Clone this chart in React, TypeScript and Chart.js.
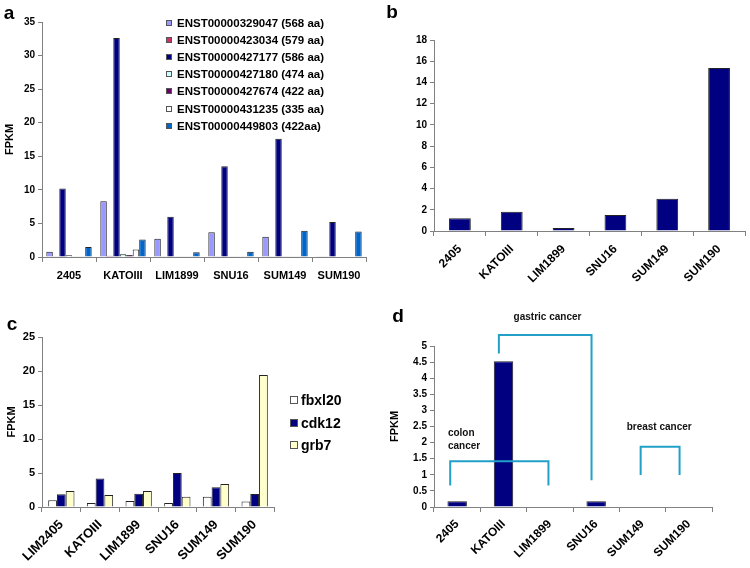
import React, { useEffect, useRef } from 'react';
import { Chart, registerables } from 'chart.js';
Chart.register(...registerables);

const FONT = 'Arial, "Liberation Sans", sans-serif';
const AXIS = '#808080';

// ---------- Panel a ----------
const aCategories = ['2405', 'KATOIII', 'LIM1899', 'SNU16', 'SUM149', 'SUM190'];
const aNames = [
  'ENST00000329047 (568 aa)',
  'ENST00000423034 (579 aa)',
  'ENST00000427177 (586 aa)',
  'ENST00000427180 (474 aa)',
  'ENST00000427674 (422 aa)',
  'ENST00000431235 (335 aa)',
  'ENST00000449803 (422aa)',
];
const aColors = ['#9999ff', '#cc3366', '#000080', '#ccffff', '#660066', '#ffffff', '#0066cc'];
const aS329047 = [0.8, 8.3, 2.7, 3.7, 3.0, 0.1];
const aS423034 = [0.05, 0.2, 0.05, 0.05, 0.05, 0.05];
const aS427177 = [10.2, 32.6, 6.0, 13.5, 17.6, 5.2];
const aS427180 = [0.25, 0.4, 0.1, 0.1, 0.1, 0];
const aS427674 = [0.1, 0.3, 0.05, 0.1, 0.1, 0];
const aS431235 = [0.1, 1.1, 0.1, 0.1, 0.05, 0];
const aS449803 = [1.5, 2.6, 0.7, 0.8, 3.9, 3.8];
const aSeries = [aS329047, aS423034, aS427177, aS427180, aS427674, aS431235, aS449803];

// ---------- Panel b ----------
const bCategories = ['2405', 'KATOIII', 'LIM1899', 'SNU16', 'SUM149', 'SUM190'];
const bValues = [1.2, 1.82, 0.28, 1.5, 3.05, 15.35];

// ---------- Panel c ----------
const cCategories = ['LIM2405', 'KATOIII', 'LIM1899', 'SNU16', 'SUM149', 'SUM190'];
const cNames = ['fbxl20', 'cdk12', 'grb7'];
const cColors = ['#ffffff', '#000080', '#ffffcc'];
const cFbxl20 = [0.98, 0.6, 0.88, 0.6, 1.5, 0.8];
const cCdk12 = [1.86, 4.2, 1.96, 5.0, 2.9, 1.9];
const cGrb7 = [2.35, 1.76, 2.35, 1.5, 3.4, 19.4];
const cSeries = [cFbxl20, cCdk12, cGrb7];

// ---------- Panel d ----------
const dCategories = ['2405', 'KATOIII', 'LIM1899', 'SNU16', 'SUM149', 'SUM190'];
const dValues = [0.18, 4.53, 0, 0.18, 0, 0];
const dBrackets = [
  { x1: -0.15, x2: 1.97, top: 1.42, y1: 0.67, y2: 0.67 },
  { x1: 0.9, x2: 2.9, top: 5.34, y1: 4.77, y2: 0.83 },
  { x1: 3.96, x2: 4.8, top: 1.87, y1: 0.99, y2: 0.99 },
];
const dLabels = [
  { text: 'gastric cancer', x: 1.95, y: 5.9, align: 'center' },
  { text: 'colon', x: -0.2, y: 2.29, align: 'left' },
  { text: 'cancer', x: -0.2, y: 1.89, align: 'left' },
  { text: 'breast cancer', x: 4.36, y: 2.47, align: 'center' },
];

function drawLetter(ctx: CanvasRenderingContext2D, t: string, x: number, y: number) {
  ctx.save();
  ctx.font = `bold 19px ${FONT}`;
  ctx.fillStyle = '#000';
  ctx.textBaseline = 'middle';
  ctx.textAlign = 'center';
  ctx.fillText(t, x, y);
  ctx.restore();
}

function drawLegend(
  ctx: CanvasRenderingContext2D,
  names: string[],
  colors: string[],
  x: number,
  y0: number,
  dy: number,
  box: number,
  gap: number,
  font: string
) {
  ctx.save();
  ctx.font = font;
  ctx.textBaseline = 'middle';
  ctx.textAlign = 'left';
  names.forEach((n, i) => {
    const y = Math.round(y0 + i * dy);
    ctx.fillStyle = colors[i];
    ctx.fillRect(x, y - box / 2, box, box);
    ctx.strokeStyle = '#555';
    ctx.lineWidth = 1;
    ctx.strokeRect(x + 0.5, y - box / 2 + 0.5, box - 1, box - 1);
    ctx.fillStyle = '#000';
    ctx.fillText(n, x + box + gap, y + 1);
  });
  ctx.restore();
}

function xAxis(size: number, rot: number, height: number, pad: number) {
  return {
    grid: { display: true, drawOnChartArea: false, drawTicks: true, tickLength: 5, color: AXIS, offset: true },
    border: { color: AXIS, width: 1 },
    ticks: {
      color: '#000',
      font: { family: FONT, size, weight: 'bold' },
      minRotation: rot,
      maxRotation: rot,
      autoSkip: false,
      padding: pad,
    },
    afterFit: (s: any) => {
      s.height = height;
    },
  };
}

function yAxis(max: number, step: number, size: number, width: number, title: boolean, titlePad: number) {
  return {
    min: 0,
    max,
    grid: { display: true, drawOnChartArea: false, drawTicks: true, tickLength: 4, color: AXIS },
    border: { color: AXIS, width: 1 },
    ticks: {
      stepSize: step,
      color: '#000',
      font: { family: FONT, size, weight: 'bold' },
      padding: 3,
      callback: (v: any) => String(Math.round(Number(v) * 10) / 10),
    },
    title: {
      display: title,
      text: 'FPKM',
      color: '#000',
      font: { family: FONT, size: 11, weight: 'bold' },
      padding: { top: titlePad, bottom: 0 },
    },
    afterFit: (s: any) => {
      s.width = width;
    },
  };
}

function Panel({ left, top, width, height, make }: any) {
  const ref = useRef<HTMLCanvasElement>(null);
  useEffect(() => {
    if (!ref.current) return;
    const chart = new Chart(ref.current, make());
    return () => chart.destroy();
  }, []);
  return (
    <canvas
      ref={ref}
      width={width}
      height={height}
      style={{ position: 'absolute', left, top, width, height, display: 'block' }}
    />
  );
}

const barBorder = { borderColor: '#222', borderWidth: 1 };

function makeA(): any {
  return {
    type: 'bar',
    data: {
      labels: aCategories,
      datasets: aSeries.map((s, i) => ({
        label: aNames[i],
        data: s,
        backgroundColor: aColors[i],
        ...barBorder,
        categoryPercentage: 0.84,
        barPercentage: 1,
      })),
    },
    options: {
      responsive: false,
      animation: false,
      layout: { padding: { left: 0, top: 22, right: 9, bottom: 0 } },
      plugins: { legend: { display: false }, tooltip: { enabled: false } },
      scales: { x: xAxis(11, 0, 33, 7), y: yAxis(35, 5, 10, 42, true, 3) },
    },
    plugins: [
      {
        id: 'decorA',
        afterDraw(chart: any) {
          const ctx = chart.ctx;
          drawLetter(ctx, 'a', 9, 14);
          drawLegend(ctx, aNames, aColors, 166, 22.5, 17.2, 6, 5, `bold 11.5px ${FONT}`);
        },
      },
    ],
  };
}

function makeB(): any {
  return {
    type: 'bar',
    data: {
      labels: bCategories,
      datasets: [
        { label: 'b', data: bValues, backgroundColor: '#000080', ...barBorder, categoryPercentage: 0.42, barPercentage: 1 },
      ],
    },
    options: {
      responsive: false,
      animation: false,
      layout: { padding: { left: 0, top: 40, right: 5, bottom: 0 } },
      plugins: { legend: { display: false }, tooltip: { enabled: false } },
      scales: { x: xAxis(12, 45, 59, 6), y: yAxis(18, 2, 10, 59, false, 0) },
    },
    plugins: [
      {
        id: 'decorB',
        afterDraw(chart: any) {
          drawLetter(chart.ctx, 'b', 17, 13);
        },
      },
    ],
  };
}

function makeC(): any {
  return {
    type: 'bar',
    data: {
      labels: cCategories,
      datasets: cSeries.map((s, i) => ({
        label: cNames[i],
        data: s,
        backgroundColor: cColors[i],
        ...barBorder,
        categoryPercentage: 0.68,
        barPercentage: 1,
      })),
    },
    options: {
      responsive: false,
      animation: false,
      layout: { padding: { left: 0, top: 47, right: 101, bottom: 0 } },
      plugins: { legend: { display: false }, tooltip: { enabled: false } },
      scales: { x: xAxis(13, 45, 61, 5), y: yAxis(25, 5, 11, 42, true, 5) },
    },
    plugins: [
      {
        id: 'decorC',
        afterDraw(chart: any) {
          const ctx = chart.ctx;
          drawLetter(ctx, 'c', 12, 35);
          drawLegend(ctx, cNames, cColors, 290, 110, 22.5, 8, 3, `bold 14px ${FONT}`);
        },
      },
    ],
  };
}

function makeD(): any {
  return {
    type: 'bar',
    data: {
      labels: dCategories,
      datasets: [
        { label: 'd', data: dValues, backgroundColor: '#000080', ...barBorder, categoryPercentage: 0.42, barPercentage: 1 },
      ],
    },
    options: {
      responsive: false,
      animation: false,
      layout: { padding: { left: 0, top: 56, right: 38, bottom: 0 } },
      plugins: { legend: { display: false }, tooltip: { enabled: false } },
      scales: { x: xAxis(12, 45, 61, 5), y: yAxis(5, 0.5, 10, 59, true, 13) },
    },
    plugins: [
      {
        id: 'decorD',
        afterDraw(chart: any) {
          const ctx = chart.ctx;
          const xs = chart.scales.x;
          const ys = chart.scales.y;
          drawLetter(ctx, 'd', 23, 27);
          ctx.save();
          ctx.strokeStyle = '#22a0c8';
          ctx.lineWidth = 2;
          dBrackets.forEach((b) => {
            const x1 = xs.getPixelForValue(b.x1);
            const x2 = xs.getPixelForValue(b.x2);
            ctx.beginPath();
            ctx.moveTo(x1, ys.getPixelForValue(b.y1));
            ctx.lineTo(x1, ys.getPixelForValue(b.top));
            ctx.lineTo(x2, ys.getPixelForValue(b.top));
            ctx.lineTo(x2, ys.getPixelForValue(b.y2));
            ctx.stroke();
          });
          ctx.font = `bold 10px ${FONT}`;
          ctx.fillStyle = '#111';
          ctx.textBaseline = 'middle';
          dLabels.forEach((l) => {
            ctx.textAlign = l.align as CanvasTextAlign;
            ctx.fillText(l.text, xs.getPixelForValue(l.x), ys.getPixelForValue(l.y));
          });
          ctx.restore();
        },
      },
    ],
  };
}

export default function App() {
  return (
    <div style={{ position: 'absolute', left: 0, top: 0, width: 750, height: 568, background: '#fff', overflow: 'hidden' }}>
      <Panel left={0} top={0} width={375} height={290} make={makeA} />
      <Panel left={375} top={0} width={375} height={290} make={makeB} />
      <Panel left={0} top={290} width={375} height={278} make={makeC} />
      <Panel left={375} top={290} width={375} height={278} make={makeD} />
    </div>
  );
}
